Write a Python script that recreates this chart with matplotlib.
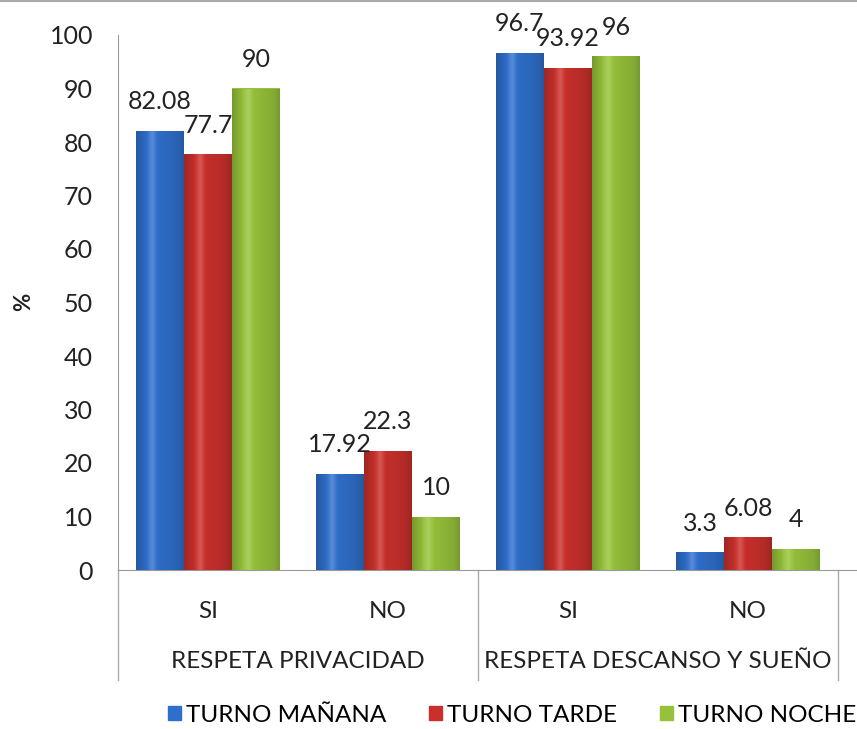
import matplotlib
matplotlib.use('Agg')
import matplotlib.pyplot as plt
import matplotlib.colors as mcolors
from matplotlib.patches import Patch
from matplotlib.lines import Line2D
import numpy as np

plt.rcParams['font.family'] = ['Lato', 'DejaVu Sans']

# data
sub_labels = ['SI', 'NO', 'SI', 'NO']
group_labels = ['RESPETA PRIVACIDAD', 'RESPETA DESCANSO Y SUEÑO']
series_names = ['TURNO MAÑANA', 'TURNO TARDE', 'TURNO NOCHE']
manana = [82.08, 17.92, 96.7, 3.3]
tarde = [77.7, 22.3, 93.92, 6.08]
noche = [90, 10, 96, 4]
series_values = [manana, tarde, noche]
series_colors = ['#2f6fcb', '#c9302c', '#96c23b']

W, H = 857, 729
fig = plt.figure(figsize=(W / 100, H / 100), dpi=100)
ax = fig.add_axes([118 / W, 159 / H, (W - 118) / W, 535 / H])

x = np.arange(len(sub_labels))
bw = 48 / 180
grad = np.array([0.55, 0.75, 0.95, 1.0, 0.95, 0.9, 0.85, 0.8, 0.72, 0.55])


def shade(col, f):
    c = np.array(mcolors.to_rgb(col))
    if f >= 0.95:
        return np.clip(c + (1 - c) * (f - 0.95) * 4, 0, 1)
    return c * (0.55 + 0.45 * f)


for i, (vals, col) in enumerate(zip(series_values, series_colors)):
    bars = ax.bar(x + (i - 1) * bw, vals, bw, color=col, zorder=2)
    for b, v in zip(bars, vals):
        x0, w, h = b.get_x(), b.get_width(), b.get_height()
        img = np.array([[shade(col, f) for f in np.interp(np.linspace(0, 1, 40), np.linspace(0, 1, len(grad)), grad)]])
        im = ax.imshow(img, extent=[x0, x0 + w, 0, h], aspect='auto', zorder=3, interpolation='bilinear')
        im.set_clip_path(b)
        ax.annotate(f'{v:g}', (x0 + w / 2, h), xytext=(0, 21), textcoords='offset points',
                    ha='center', va='center', fontsize=18, color='#222222', zorder=4,
                    annotation_clip=False)

ax.set_xlim(-0.5, -0.5 + (W - 118) / 180)
ax.set_ylim(0, 100)
ax.set_yticks(np.arange(0, 101, 10))
ax.tick_params(axis='y', labelsize=18, length=0, pad=18, colors='#222222')
ax.set_xticks([])
for s in ['top', 'right']:
    ax.spines[s].set_visible(False)
ax.spines['left'].set_color('#999999')
ax.spines['bottom'].set_color('#999999')
fig.text(24 / W, 1 - 302 / H, '%', rotation=90, ha='center', va='center',
         fontsize=16, fontweight='bold', color='#222222')

# category labels below axis
tr = ax.get_xaxis_transform()
px = 1 / 535
for xi, lab in zip(x, sub_labels):
    ax.text(xi, -41 * px, lab, transform=tr, ha='center', va='center', fontsize=17.5, color='#222222')
for gi, lab in enumerate(group_labels):
    ax.text(gi * 2 + 0.5, -91 * px, lab, transform=tr, ha='center', va='center', fontsize=17.5, color='#222222')
for sx in [-0.5, 1.5, 3.5]:
    ax.plot([sx, sx], [0, -110 * px], transform=tr, color='#aaaaaa', lw=1, clip_on=False)

handles = [Patch(facecolor=c, edgecolor=c) for c in series_colors]
fig.legend(handles, series_names, loc='center left', bbox_to_anchor=(168 / W, 14 / H), ncol=3,
           frameon=False, fontsize=17.5, handlelength=0.55, handleheight=0.55, handletextpad=0.2,
           columnspacing=1.75, borderaxespad=0, borderpad=0)

fig.add_artist(Line2D([0, 1], [1 - 1 / H, 1 - 1 / H], color='#aaaaaa', lw=1.5))

fig.savefig('out.png', dpi=100)
